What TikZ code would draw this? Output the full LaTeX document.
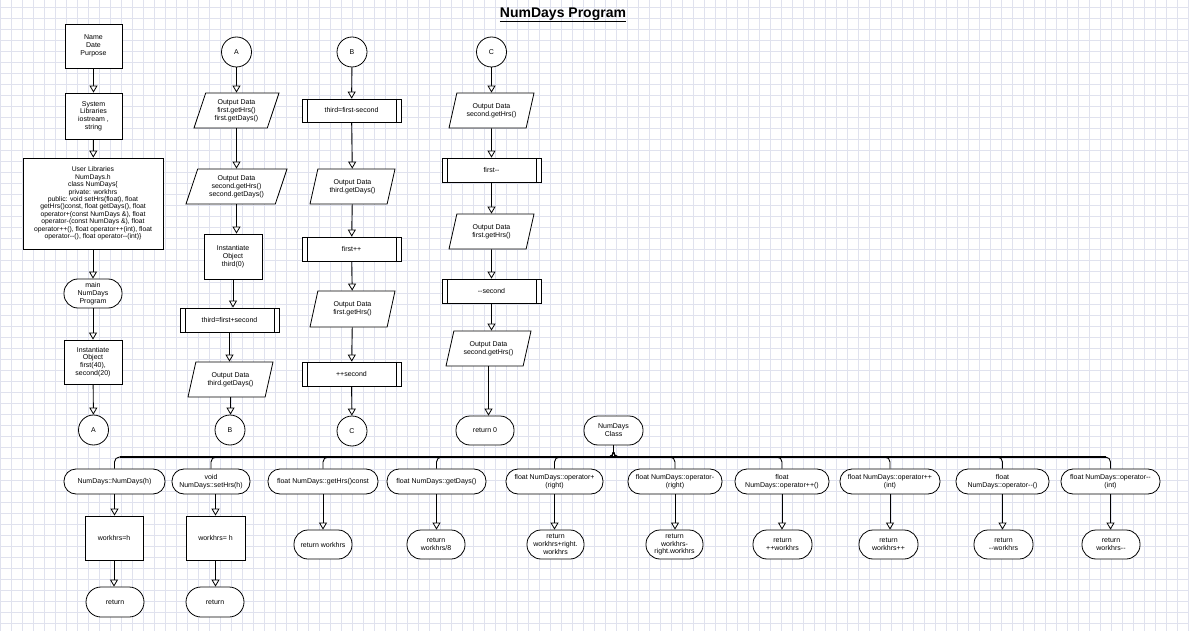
\documentclass[tikz,border=0pt]{standalone}
\usepackage{fontspec}
\setmainfont{Liberation Sans}
\usetikzlibrary{arrows.meta,shapes.geometric}
\begin{document}
\begin{tikzpicture}[x=1pt,y=-1pt,
  every node/.style={font=\fontsize{7}{7.8}\selectfont},
  gridc/.style={draw={rgb,255:red,224;green,226;blue,238}, line width=0.5pt},
  base/.style={draw, line width=0.8pt, fill=white, align=center, inner sep=1pt},
  stepbox/.style={base, rectangle},
  term/.style={base, rectangle, rounded corners=#1},
  term/.default=12pt,
  io/.style={base, trapezium, trapezium left angle=64, trapezium right angle=116,
    trapezium stretches body=true},
  pp/.style={base, rectangle, path picture={
    \draw[line width=0.8pt] ([xshift=5pt]path picture bounding box.north west) -- ([xshift=5pt]path picture bounding box.south west);
    \draw[line width=0.8pt] ([xshift=-5pt]path picture bounding box.north east) -- ([xshift=-5pt]path picture bounding box.south east);}},
  circ/.style={base, circle, minimum size=30pt, inner sep=0pt},
  conn/.style={draw, line width=0.9pt},
  arr/.style={conn, -{Triangle[width=8pt,length=7pt,fill=white,line width=0.8pt]}}
]
\useasboundingbox (0,0) rectangle (1189,631);
\fill[white] (0,0) rectangle (1189,631);
\foreach \i in {0,...,108} {\draw[gridc] (\i*11+0.7,0) -- (\i*11+0.7,631);}
\foreach \j in {0,...,57} {\draw[gridc] (0,\j*11+7.3) -- (1189,\j*11+7.3);}

\node[font=\fontsize{14}{16}\selectfont\bfseries] (title) at (563,15) {\underline{NumDays Program}};

% column 1
\node[stepbox, minimum width=57pt, minimum height=44pt] (name) at (93.5,46) {Name\\Date\\Purpose};
\node[stepbox, minimum width=57pt, minimum height=46pt] (syslib) at (93.5,116) {System\\Libraries\\iostream ,\\string};
\node[stepbox, minimum width=140pt, minimum height=91pt, font=\fontsize{6.8}{7.4}\selectfont] (userlib) at (93,203.5) {User Libraries\\NumDays.h\\class NumDays\{\\private: workhrs\\public: void setHrs(float), float\\getHrs()const, float getDays(), float\\operator+(const NumDays \&), float\\operator-(const NumDays \&), float\\operator++(), float operator++(int), float\\operator-{}-(), float operator-{}-(int)\}};
\node[term=14pt, minimum width=58pt, minimum height=29pt] (main) at (93,293.5) {main\\NumDays\\Program};
\node[stepbox, minimum width=58pt, minimum height=44pt] (inst1) at (93,362) {Instantiate\\Object\\first(40),\\second(20)};
\node[circ] (A1) at (93.5,430) {A};

% column A
\node[circ] (A2) at (236.5,52) {A};
\node[io, minimum width=85pt, minimum height=35pt] (io1) at (236.5,110.5) {Output Data\\first.getHrs()\\first.getDays()};
\node[io, minimum width=101pt, minimum height=35pt] (io2) at (236.5,186.5) {Output Data\\second.getHrs()\\second.getDays()};
\node[stepbox, minimum width=58pt, minimum height=45pt] (inst2) at (233,256.5) {Instantiate\\Object\\third(0)};
\node[pp, minimum width=99pt, minimum height=24pt] (p1) at (229.5,320) {third=first+second};
\node[io, minimum width=85pt, minimum height=35pt] (io3) at (230.5,379.5) {Output Data\\third.getDays()};
\node[circ] (B1) at (230,430) {B};

% column B
\node[circ] (B2) at (352,52) {B};
\node[pp, minimum width=99pt, minimum height=23pt] (p2) at (351.5,110.5) {third=first-second};
\node[io, minimum width=85pt, minimum height=35pt] (io4) at (352.5,186.5) {Output Data\\third.getDays()};
\node[pp, minimum width=99pt, minimum height=24pt] (p3) at (351.5,249) {first++};
\node[io, minimum width=85pt, minimum height=36pt] (io5) at (352.5,309) {Output Data\\first.getHrs()};
\node[pp, minimum width=99pt, minimum height=24pt] (p4) at (351.5,374) {++second};
\node[circ] (C1) at (352,431) {C};

% column C
\node[circ] (C2) at (491.5,52) {C};
\node[io, minimum width=85pt, minimum height=35pt] (io6) at (491.5,110.5) {Output Data\\second.getHrs()};
\node[pp, minimum width=99pt, minimum height=24pt] (p5) at (491.5,170) {first-{}-};
\node[io, minimum width=85pt, minimum height=35pt] (io7) at (491.5,231.5) {Output Data\\first.getHrs()};
\node[pp, minimum width=99pt, minimum height=24pt] (p6) at (491.5,291) {-{}-second};
\node[io, minimum width=85pt, minimum height=35pt] (io8) at (488.5,348.5) {Output Data\\second.getHrs()};
\node[term=14pt, minimum width=58pt, minimum height=29pt] (ret0) at (485,430.5) {return 0};

% class
\node[term=14pt, minimum width=59pt, minimum height=29pt] (cls) at (613.5,430.5) {NumDays\\Class};

% method row
\node[term, minimum width=101pt, minimum height=25pt] (t1) at (114.5,481.5) {NumDays::NumDays(h)};
\node[term, minimum width=78pt, minimum height=25pt] (t2) at (211,481.5) {void\\NumDays::setHrs(h)};
\node[term, minimum width=110pt, minimum height=25pt] (t3) at (323,481.5) {float NumDays::getHrs()const};
\node[term, minimum width=99pt, minimum height=25pt] (t4) at (436.5,481.5) {float NumDays::getDays()};
\node[term, minimum width=97pt, minimum height=25pt] (t5) at (554.5,481.5) {float NumDays::operator+\\(right)};
\node[term, minimum width=94pt, minimum height=25pt] (t6) at (675,481.5) {float NumDays::operator-\\(right)};
\node[term, minimum width=94pt, minimum height=25pt] (t7) at (782,481.5) {float\\NumDays::operator++()};
\node[term, minimum width=100pt, minimum height=25pt] (t8) at (890,481.5) {float NumDays::operator++\\(int)};
\node[term, minimum width=93pt, minimum height=25pt] (t9) at (1002.5,481.5) {float\\NumDays::operator-{}-()};
\node[term, minimum width=99pt, minimum height=25pt] (t10) at (1110.5,481.5) {float NumDays::operator-{}-\\(int)};

% second row
\node[stepbox, minimum width=58pt, minimum height=44pt] (b1) at (114,538) {workhrs=h};
\node[stepbox, minimum width=59pt, minimum height=44pt] (b2) at (215.5,538) {workhrs= h};
\node[term=14pt, minimum width=58pt, minimum height=29pt] (r3) at (323,544.5) {return workhrs};
\node[term=14pt, minimum width=58pt, minimum height=29pt] (r4) at (436,544.5) {return\\workhrs/8};
\node[term=14pt, minimum width=57pt, minimum height=29pt] (r5) at (555.5,544.5) {return\\workhrs+right.\\workhrs};
\node[term=14pt, minimum width=57pt, minimum height=29pt] (r6) at (674.5,544.5) {return\\workhrs-\\right.workhrs};
\node[term=14pt, minimum width=59pt, minimum height=29pt] (r7) at (782.5,544.5) {return\\++workhrs};
\node[term=14pt, minimum width=59pt, minimum height=29pt] (r8) at (888.5,544.5) {return\\workhrs++};
\node[term=14pt, minimum width=59pt, minimum height=29pt] (r9) at (1003.5,544.5) {return\\-{}-workhrs};
\node[term=14pt, minimum width=58pt, minimum height=29pt] (r10) at (1111,544.5) {return\\workhrs-{}-};

% third row
\node[term=15pt, minimum width=58pt, minimum height=30pt] (e1) at (115,602) {return};
\node[term=15pt, minimum width=58pt, minimum height=30pt] (e2) at (215,602) {return};

% arrows column 1
\draw[arr] (name) -- (syslib);
\draw[arr] (syslib) -- (userlib);
\draw[arr] (userlib) -- (main);
\draw[arr] (main) -- (inst1);
\draw[arr] (inst1) -- (A1);
% column A
\draw[arr] (A2.south) -- (A2.south |- io1.north);
\draw[arr] (io1.south) -- (io1.south |- io2.north);
\draw[arr] (io2.south) -- (io2.south |- inst2.north);
\draw[arr] (inst2.south) -- (inst2.south |- p1.north);
\draw[arr] (p1.south) -- (p1.south |- io3.north);
\draw[arr] (io3.south) -- (io3.south |- B1.north);
% column B
\draw[arr] (B2) -- (p2);
\draw[arr] (p2) -- (io4);
\draw[arr] (io4) -- (p3);
\draw[arr] (p3) -- (io5);
\draw[arr] (io5) -- (p4);
\draw[arr] (p4) -- (C1);
% column C
\draw[arr] (C2.south) -- (C2.south |- io6.north);
\draw[arr] (io6) -- (p5);
\draw[arr] (p5) -- (io7);
\draw[arr] (io7) -- (p6);
\draw[arr] (p6.south) -- (p6.south |- io8.north);
\draw[arr] (io8.south) -- (io8.south |- ret0.north);

% class bus
\coordinate (busy) at (613,457);
\draw[line width=1.6pt] ([xshift=5pt]t1.north |- busy) -- ([xshift=-5pt]t10.north |- busy);
\foreach \k in {1,...,10} {
  \draw[conn, rounded corners=5pt] (cls.south) |- (t\k.north |- busy) -- (t\k.north);
}

% method arrows
\draw[arr] (t1.south) -- (t1.south |- b1.north);
\draw[arr] (b1.south) -- (b1.south |- e1.north);
\draw[arr] (b2.north |- t2.south) -- (b2.north);
\draw[arr] (b2.south) -- (b2.south |- e2.north);
\foreach \k in {3,...,10} {
  \draw[arr] (t\k.south) -- (t\k.south |- r\k.north);
}
\end{tikzpicture}
\end{document}
